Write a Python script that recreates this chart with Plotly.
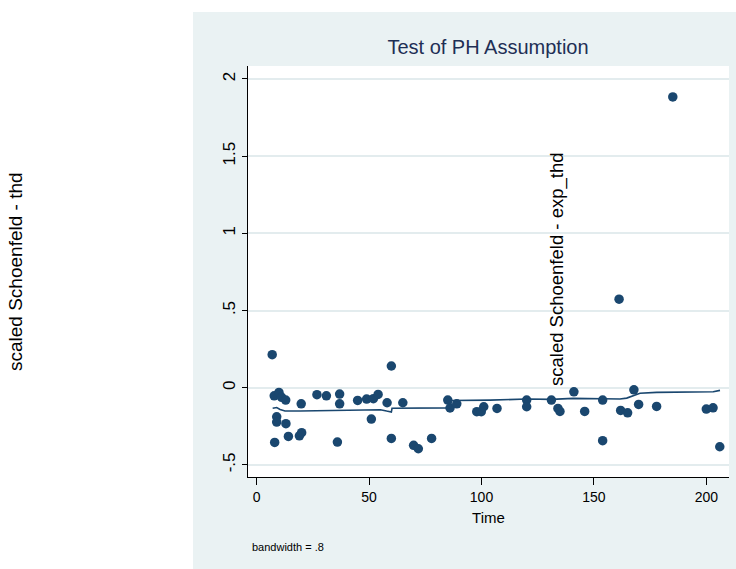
import plotly.graph_objects as go

# ---- data ----
time = [6.9, 7.8, 8.0, 8.9, 8.9, 9.9, 11.1, 12.9, 13.0, 14.1, 19.0, 20.0, 19.8,
        26.8, 31.0, 35.9, 36.9, 36.9, 44.9, 48.9, 51.0, 51.9, 54.0, 58.0, 59.9,
        59.9, 65.0, 69.8, 71.9, 77.8, 85.0, 86.0, 89.0, 97.9, 99.9, 101.0, 106.9,
        120.1, 120.1, 131.1, 134.0, 134.9, 141.1, 145.9, 153.9, 153.9, 161.2,
        161.9, 165.0, 167.8, 169.9, 177.9, 185.1, 200.0, 203.0, 206.0]
resid = [0.214, -0.052, -0.354, -0.188, -0.222, -0.030, -0.062, -0.080, -0.233,
         -0.315, -0.311, -0.291, -0.104, -0.045, -0.052, -0.352, -0.041, -0.104,
         -0.082, -0.073, -0.203, -0.071, -0.043, -0.097, 0.141, -0.328, -0.097,
         -0.373, -0.395, -0.328, -0.080, -0.131, -0.104, -0.155, -0.155, -0.123,
         -0.134, -0.080, -0.123, -0.080, -0.134, -0.153, -0.026, -0.153, -0.080,
         -0.343, 0.574, -0.147, -0.162, -0.013, -0.108, -0.121, 1.884, -0.138,
         -0.130, -0.382]

smooth_time = [7.1, 8.9, 10.4, 12.6, 19.3, 37.1, 48.9, 55.0, 57.8, 59.9, 60.2,
               66.7, 84.5, 86.0, 86.7, 103.8, 120.1, 131.2, 140.8, 153.9, 160.1,
               161.6, 164.6, 168.3, 170.5, 177.9, 195.7, 203.1, 206.1]
smooth_val = [-0.133, -0.128, -0.141, -0.151, -0.151, -0.148, -0.144, -0.142,
              -0.151, -0.157, -0.133, -0.133, -0.130, -0.128, -0.083, -0.080,
              -0.073, -0.075, -0.069, -0.071, -0.075, -0.073, -0.067, -0.047,
              -0.036, -0.030, -0.028, -0.026, -0.017]

x_ticks = [0, 50, 100, 150, 200]
y_ticks = [-0.5, 0, 0.5, 1, 1.5, 2]
y_tick_labels = ["-.5", "0", ".5", "1", "1.5", "2"]

title_text = "Test of PH Assumption"
x_title = "Time"
y_title = "scaled Schoenfeld - thd"
inner_label = "scaled Schoenfeld - exp_thd"
note_text = "bandwidth = .8"

# ---- style ----
NAVY = "#1a476f"
PANEL = "#eaf2f3"
GRID = "#e3ecee"
FONT = "Liberation Sans, Arial, sans-serif"

W, H = 736, 569
L, R, T, B = 248, 729, 66, 477  # plot area in pixels


def px_x(px):
    return (px - L) / (R - L)


def px_y(py):
    return (B - py) / (B - T)


fig = go.Figure()
fig.add_trace(go.Scatter(x=time, y=resid, mode="markers",
                         marker=dict(color=NAVY, size=9.5, line=dict(width=0)),
                         showlegend=False, hoverinfo="skip"))
fig.add_trace(go.Scatter(x=smooth_time, y=smooth_val, mode="lines",
                         line=dict(color=NAVY, width=1.6),
                         showlegend=False, hoverinfo="skip"))

fig.update_layout(
    width=W, height=H, autosize=False,
    margin=dict(l=L, r=W - R, t=T, b=H - B, pad=0),
    paper_bgcolor=PANEL, plot_bgcolor="white",
    title=dict(text=title_text, x=px_x(488), xref="paper", xanchor="center",
               y=1 - 47 / H, yref="container", yanchor="middle",
               font=dict(family=FONT, size=20, color="#1e2f55")),
    xaxis=dict(range=[-3.87, 210.1], tickvals=x_ticks, ticks="outside",
               ticklen=7, tickcolor="black", tickwidth=1,
               showline=True, linecolor="black", linewidth=1,
               showgrid=False, zeroline=False,
               tickfont=dict(family=FONT, size=14, color="black"),
               title=dict(text=x_title, standoff=8,
                          font=dict(family=FONT, size=15, color="black"))),
    yaxis=dict(range=[-0.578, 2.084], tickvals=y_ticks, ticktext=y_tick_labels,
               tickangle=-90, ticks="outside", ticklen=5, tickcolor="black",
               tickwidth=1, showline=True, linecolor="black", linewidth=1,
               showgrid=True, gridcolor=GRID, gridwidth=1.5, zeroline=False,
               tickfont=dict(family=FONT, size=17, color="black")),
    shapes=[
        dict(type="rect", xref="paper", yref="paper", x0=px_x(0), x1=px_x(193),
             y0=px_y(H + 5), y1=px_y(-5), fillcolor="white", line=dict(width=0),
             layer="below"),
        dict(type="rect", xref="paper", yref="paper", x0=px_x(193), x1=px_x(W + 5),
             y0=px_y(12), y1=px_y(-5), fillcolor="white", line=dict(width=0),
             layer="below"),
    ],
    annotations=[
        dict(text=y_title, xref="paper", yref="paper", x=px_x(15), y=px_y(272),
             textangle=-90, showarrow=False, xanchor="center", yanchor="middle",
             font=dict(family=FONT, size=19, color="black")),
        dict(text=inner_label, xref="paper", yref="paper", x=px_x(557), y=px_y(270),
             textangle=-90, showarrow=False, xanchor="center", yanchor="middle",
             font=dict(family=FONT, size=18.5, color="black")),
        dict(text=note_text, xref="paper", yref="paper", x=px_x(250), y=px_y(547),
             showarrow=False, xanchor="left", yanchor="middle",
             font=dict(family=FONT, size=11, color="black")),
    ],
)

fig.write_html("out.html",
               config={"displayModeBar": False},
               post_script="document.body.style.margin='0px';"
                           "document.body.style.overflow='hidden';")
